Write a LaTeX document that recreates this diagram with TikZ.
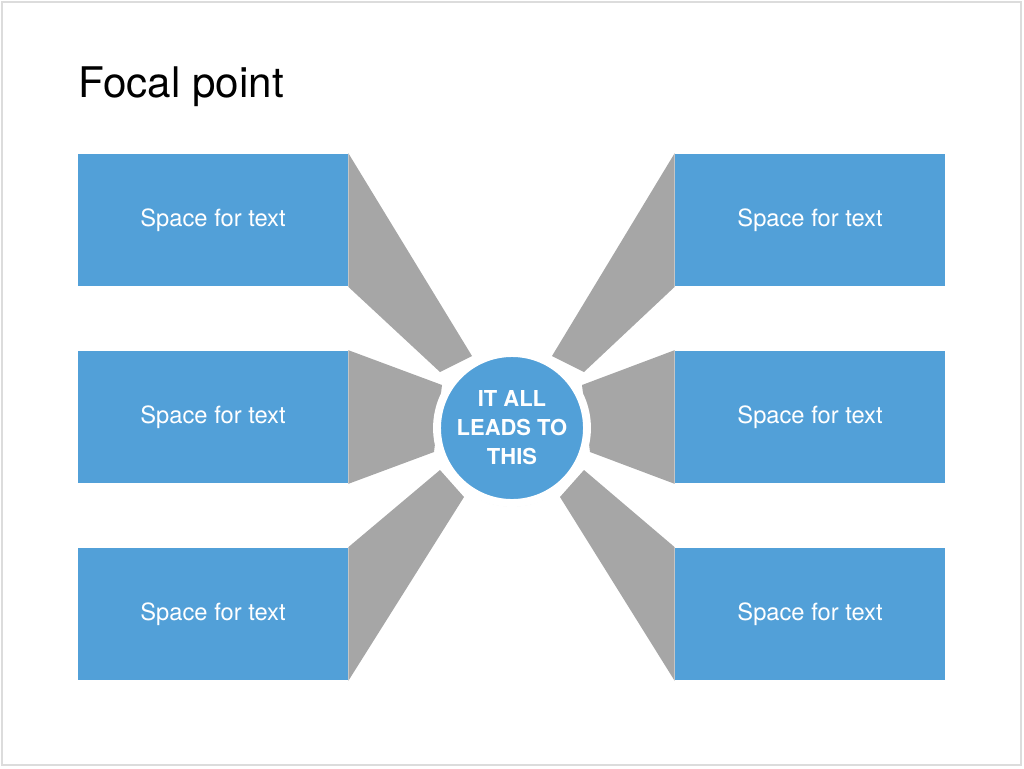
\documentclass[tikz,border=0pt]{standalone}
\usepackage{fontspec}
\setmainfont{TeX Gyre Heros}
\usetikzlibrary{positioning,calc,shadows}
\definecolor{boxblue}{RGB}{82,160,216}
\definecolor{wedgegray}{RGB}{166,166,166}
\definecolor{framegray}{RGB}{220,220,220}

\begin{document}
\begin{tikzpicture}[x=0.02cm,y=-0.02cm,
    textbox/.style={rectangle, fill=boxblue, minimum width=5.4cm, minimum height=2.66cm, text=white, font=\fontsize{13.5}{16}\selectfont, inner sep=0pt},
    wedge/.style={fill=wedgegray, draw=none}
]

% frame
\draw[framegray, line width=1pt] (2,2) rectangle (1021,765);
\useasboundingbox (0,0) rectangle (1024,768);

% title
\node[anchor=base west, font=\fontsize{24}{28}\selectfont, inner sep=0pt] (title) at (78,97) {Focal point};

% boxes
\node[textbox] (lt) at (213,220) {Space for text};
\node[textbox] (lm) at (213,417) {Space for text};
\node[textbox] (lb) at (213,614) {Space for text};
\node[textbox] (rt) at (810,220) {Space for text};
\node[textbox] (rm) at (810,417) {Space for text};
\node[textbox] (rb) at (810,614) {Space for text};

% wedges
\fill[wedge] (lt.north east) -- (472,356) -- (440,372) -- (lt.south east) -- cycle;
\fill[wedge] (lm.north east) -- (442,385) -- (434,452) -- (lm.south east) -- cycle;
\fill[wedge] (lb.north east) -- (440,470) -- (464,497) -- (lb.south east) -- cycle;
\fill[wedge] (rt.north west) -- (552,356) -- (584,372) -- (rt.south west) -- cycle;
\fill[wedge] (rm.north west) -- (582,385) -- (590,452) -- (rm.south west) -- cycle;
\fill[wedge] (rb.north west) -- (584,470) -- (560,497) -- (rb.south west) -- cycle;

% focal circle
\node[circle, fill=boxblue, draw=white, line width=4.5pt, minimum size=3cm,
      drop shadow={opacity=0.35, shadow xshift=0pt, shadow yshift=-2pt},
      text=white, align=center, font=\bfseries\fontsize{12.5}{16.5}\selectfont] (focus) at (512,428)
      {IT ALL\\LEADS TO\\THIS};

\end{tikzpicture}
\end{document}
